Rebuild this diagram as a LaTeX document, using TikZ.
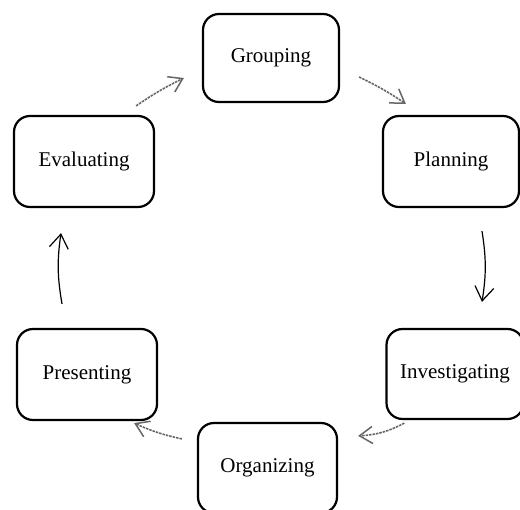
\documentclass[tikz,border=0pt]{standalone}
\usepackage{fontspec}
\setmainfont{Liberation Serif}
\usetikzlibrary{arrows.meta,calc}
\begin{document}
\begin{tikzpicture}[x=1pt,y=-1pt,
  stagebox/.style={draw=black,line width=2.2pt,rounded corners=16pt,fill=white,
    inner sep=0pt,font=\fontsize{21}{24}\selectfont},
  solidarrow/.style={draw=black,line width=1.2pt,-{Straight Barb[length=14pt,width=19pt,line width=1.2pt]}},
  greyarrow/.style={draw=black!60,line width=1.6pt,dash pattern=on 2.5pt off 1pt,
    -{Straight Barb[length=13pt,width=17pt,line width=1.5pt]}}]
\useasboundingbox[fill=white] (0,0) rectangle (520,510);
\node[stagebox,minimum width=136pt,minimum height=88pt] (gr) at (271,58) {Grouping};
\node[stagebox,minimum width=136pt,minimum height=91pt] (pl) at (451,161.5) {Planning};
\node[stagebox,minimum width=137pt,minimum height=90pt] (inv) at (455,374) {Investigating};
\node[stagebox,minimum width=139pt,minimum height=90pt] (org) at (267.5,468) {Organizing};
\node[stagebox,minimum width=140pt,minimum height=91pt] (pre) at (87,374.5) {Presenting};
\node[stagebox,minimum width=140pt,minimum height=91pt] (ev) at (84,161.5) {Evaluating};
\draw[greyarrow] ($(ev.north east)+(-19,-9)$) to[bend left=4] ($(gr.west)+(-18,20)$);
\draw[greyarrow] ($(gr.east)+(19,19)$) to[bend left=4] ($(pl.north west)+(24,-11)$);
\draw[solidarrow] ($(pl.south)+(31,23)$) to[bend left=9] ($(inv.north)+(27,-26)$);
\draw[greyarrow] ($(inv.south west)+(19,3)$) to[bend left=12] ($(org.north east)+(20,14)$);
\draw[greyarrow] ($(org.north west)+(-15,17)$) to[bend left=6] ($(pre.south east)+(-24,2)$);
\draw[solidarrow] ($(pre.north)+(-25,-24)$) to[bend left=9] ($(ev.south)+(-23,25)$);
\end{tikzpicture}
\end{document}
